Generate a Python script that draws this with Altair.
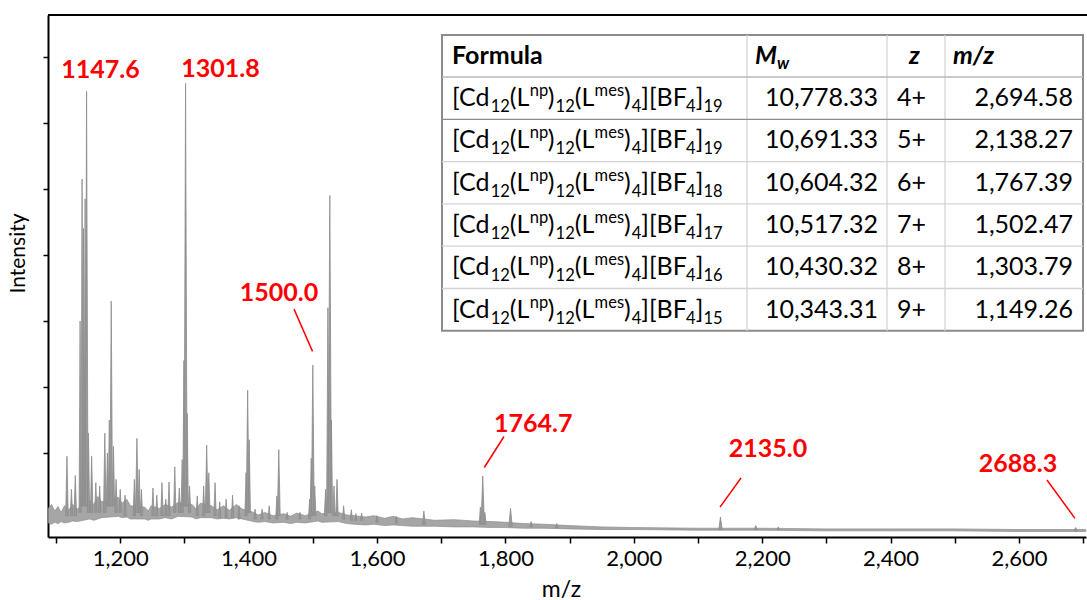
import altair as alt
import pandas as pd

# ---------------------------------------------------------------------------
# Spectrum: noisy baseline envelope (m/z, lower edge, upper edge), arb. units
# ---------------------------------------------------------------------------
base_mz = [1088, 1093, 1098, 1103, 1108, 1113, 1120, 1126, 1133, 1152, 1159, 1165,
           1171, 1197, 1203, 1210, 1216, 1238, 1244, 1248, 1261, 1270, 1280, 1290,
           1312, 1318, 1325, 1342, 1351, 1361, 1370, 1381, 1390, 1408, 1415, 1425,
           1438, 1455, 1465, 1475, 1488, 1508, 1514, 1540, 1553, 1565, 1582, 1595,
           1612, 1625, 1640, 1655, 1690, 1720, 1750, 1780, 1800, 1830, 1860, 1900,
           1950, 2000, 2100, 2200, 2300, 2400, 2500, 2600, 2704]
base_lo = [-0.06, -0.08, -0.05, -0.07, -0.04, -0.06, -0.05, -0.03, -0.04, 0.00, -0.02, 0.00,
           0.02, 0.04, 0.02, 0.03, 0.00, 0.00, -0.02, 0.00, 0.00, 0.02, 0.00, 0.04,
           0.03, 0.00, 0.02, 0.02, 0.00, 0.01, 0.00, 0.02, 0.00, -0.04, -0.05, -0.04,
           -0.06, -0.05, -0.07, -0.05, -0.06, -0.03, -0.05, -0.04, -0.07, -0.08, -0.09, -0.08,
           -0.10, -0.09, -0.10, -0.11, -0.11, -0.12, -0.12, -0.13, -0.13, -0.14, -0.14, -0.15,
           -0.16, -0.16, -0.17, -0.17, -0.18, -0.18, -0.18, -0.19, -0.19]
base_hi = [0.16, 0.22, 0.12, 0.19, 0.10, 0.20, 0.14, 0.22, 0.15, 0.28, 0.22, 0.34,
           0.26, 0.33, 0.24, 0.30, 0.20, 0.18, 0.12, 0.20, 0.16, 0.22, 0.18, 0.25,
           0.22, 0.15, 0.24, 0.20, 0.14, 0.20, 0.13, 0.22, 0.15, 0.10, 0.06, 0.10,
           0.05, 0.08, 0.04, 0.09, 0.05, 0.12, 0.08, 0.10, 0.06, 0.05, 0.03, 0.05,
           0.01, 0.04, 0.00, 0.02, -0.02, -0.01, -0.03, -0.04, -0.05, -0.07, -0.08, -0.10,
           -0.12, -0.13, -0.14, -0.14, -0.15, -0.15, -0.15, -0.16, -0.16]

# ---------------------------------------------------------------------------
# Spectrum: individual peaks (centre m/z, foot level, apex level, half-width)
# ---------------------------------------------------------------------------
peak_mz = [1117.0, 1124.0, 1130.0, 1137.5, 1140.6, 1142.8, 1145.3, 1147.6, 1150.5, 1155.5,
           1162.0, 1168.0, 1176.0, 1180.0, 1183.0, 1186.0, 1189.5, 1193.5, 1200.0, 1207.5,
           1222.0, 1226.0, 1229.5, 1233.0, 1251.0, 1257.0, 1265.0, 1271.0, 1276.0, 1285.0,
           1292.0, 1296.5, 1299.2, 1301.8, 1304.3, 1308.0, 1320.0, 1330.0, 1334.7, 1338.0,
           1347.7, 1355.0, 1365.0, 1375.0, 1385.0, 1396.0, 1398.5, 1401.0, 1410.0, 1421.0,
           1432.0, 1444.0, 1447.0, 1460.0, 1480.0, 1495.0, 1497.5, 1500.0, 1503.0, 1520.0,
           1523.5, 1526.5, 1529.0, 1533.0, 1537.7, 1548.0, 1560.0, 1567.0, 1576.0, 1600.0,
           1630.0, 1673.0, 1761.0, 1764.7, 1768.0, 1808.0, 1840.0, 1880.0, 2135.0, 2190.0,
           2225.0, 2688.3]
peak_foot = [0.05, 0.05, 0.05, 0.10, 0.20, 0.20, 0.20, 0.20, 0.10, 0.10,
             0.10, 0.10, 0.10, 0.20, 0.20, 0.20, 0.20, 0.10, 0.10, 0.05,
             0.05, 0.10, 0.10, 0.05, 0.05, 0.05, 0.05, 0.05, 0.05, 0.10,
             0.10, 0.10, 0.20, 0.20, 0.20, 0.10, 0.05, 0.05, 0.10, 0.10,
             0.05, 0.02, 0.02, 0.02, 0.00, 0.05, 0.10, 0.10, 0.00, 0.00,
             0.00, 0.00, 0.05, 0.00, 0.00, 0.00, 0.05, 0.10, 0.05, 0.05,
             0.10, 0.10, 0.10, 0.05, 0.05, 0.00, -0.02, -0.02, -0.02, -0.05,
             -0.06, -0.08, -0.08, -0.08, -0.08, -0.11, -0.12, -0.13, -0.16, -0.16,
             -0.16, -0.18]
peak_top = [0.95, 0.45, 0.66, 3.00, 5.15, 4.40, 4.85, 6.48, 1.30, 0.95,
            0.55, 0.50, 1.30, 1.00, 1.50, 3.30, 1.10, 0.60, 0.45, 0.36,
            0.60, 1.22, 0.75, 0.45, 0.47, 0.36, 0.55, 0.30, 0.56, 0.79,
            0.47, 0.90, 2.40, 6.60, 1.60, 0.50, 0.35, 0.50, 1.12, 0.70,
            0.55, 0.26, 0.30, 0.36, 0.20, 0.70, 1.95, 1.20, 0.15, 0.15,
            0.20, 0.35, 1.05, 0.10, 0.10, 0.30, 0.92, 2.33, 0.50, 0.45,
            3.20, 4.90, 1.50, 0.50, 0.60, 0.20, 0.14, 0.08, 0.09, 0.05,
            0.04, 0.12, 0.18, 0.65, 0.10, 0.16, -0.04, -0.07, 0.03, -0.10,
            -0.12, -0.13]
peak_hw = [2.0, 1.8, 2.0, 1.6, 1.6, 1.6, 1.6, 2.2, 1.8, 2.0,
           1.8, 1.8, 2.0, 1.8, 1.8, 2.0, 1.8, 1.8, 1.8, 1.8,
           1.8, 2.2, 1.8, 1.8, 1.8, 1.8, 1.8, 1.8, 1.8, 1.8,
           1.8, 1.8, 1.8, 2.4, 1.8, 1.8, 1.8, 1.8, 2.2, 1.8,
           1.8, 1.8, 1.8, 1.8, 1.8, 1.8, 2.2, 1.8, 1.8, 1.8,
           1.8, 1.8, 2.2, 1.8, 1.8, 1.8, 1.8, 2.2, 1.8, 2.2,
           2.0, 2.6, 1.8, 1.8, 1.8, 1.8, 1.8, 1.8, 1.8, 1.8,
           1.8, 2.2, 1.8, 2.6, 1.8, 2.6, 1.8, 2.2, 2.6, 2.6,
           1.8, 2.6]

# Peaks that carry an m/z annotation
labelled_mz = [1147.6, 1301.8, 1500.0, 1764.7, 2135.0, 2688.3]

# Assignment table
bf4_count = [19, 19, 18, 17, 16, 15]
mw_values = [10778.33, 10691.33, 10604.32, 10517.32, 10430.32, 10343.31]
charges = [4, 5, 6, 7, 8, 9]
mz_values = [2694.58, 2138.27, 1767.39, 1502.47, 1303.79, 1149.26]

# Axis ticks
x_ticks = list(range(1100, 2701, 100))
y_ticks = [1, 2, 3, 4, 5, 6, 7]

# ---------------------------------------------------------------------------
# Layout
# ---------------------------------------------------------------------------
FONT = "Lato"
W, H = 1038, 522
xs = alt.Scale(domain=[1087.5, 2704.4], nice=False, zero=False)
ys = alt.Scale(domain=[-0.273, 7.636], nice=False, zero=False)

# annotation text anchors (m/z, intensity of text baseline) and leader lines
label_at_mz = [1169.3, 1356.2, 1447.4, 1843.5, 2209.0, 2598.4]
label_at_int = [6.68, 6.70, 3.30, 1.32, 0.94, 0.71]
lead_from = [(1470.7, 3.18), (1797.8, 1.25), (2167.0, 0.62), (2643.6, 0.59)]
lead_to = [(1499.5, 2.54), (1767.1, 0.78), (2134.3, 0.18), (2687.2, 0.01)]

# table geometry (pixels inside the plot area's coordinate frame)
T_LEFT, T_RIGHT = 442 - 48, 1083 - 48
T_TOP, T_HEAD = 35 - 15, 77 - 15
ROW_H = 42.3
COL_EDGES = [747 - 48, 887 - 48, 945 - 48]
FS_MAIN, FS_SMALL = 25, 16.5

# ---------------------------------------------------------------------------
# Spectrum layers
# ---------------------------------------------------------------------------
band_df = pd.DataFrame({"mz": base_mz, "lo": base_lo, "hi": base_hi})

tri_rows = []
for i, (m, f, t, hw) in enumerate(zip(peak_mz, peak_foot, peak_top, peak_hw)):
    tri_rows += [
        {"pid": i, "mz": m - hw, "v": f, "f": f},
        {"pid": i, "mz": m, "v": t, "f": f},
        {"pid": i, "mz": m + hw, "v": f, "f": f},
    ]
peaks_df = pd.DataFrame(tri_rows)

x_axis = alt.Axis(
    values=x_ticks,
    labelExpr="datum.value % 200 === 0 ? format(datum.value, ',') : ''",
    tickSize=6, tickWidth=1.5, tickColor="black",
    domainColor="black", domainWidth=2, grid=False,
    labelFont=FONT, labelFontSize=22, labelColor="black",
    labelBaseline="alphabetic", labelPadding=22, labelFlush=False, labelOverlap=False,
    title="m/z", titleFont=FONT, titleFontSize=23, titleFontWeight="normal",
    titleColor="black", titleBaseline="alphabetic", titleY=59, titleX=513,
)
y_axis = alt.Axis(
    values=y_ticks, labels=False,
    tickSize=5, tickWidth=1.5, tickColor="black",
    domainColor="black", domainWidth=2, grid=False,
    title="Intensity", titleFont=FONT, titleFontSize=21, titleFontWeight="normal",
    titleColor="black", titleBaseline="alphabetic", titleAlign="center",
    titleX=-24, titleY=238,
)

band = alt.Chart(band_df).mark_area(
    color="#a6a6a6", stroke="#8e8e8e", strokeWidth=0.7, opacity=1
).encode(
    x=alt.X("mz:Q", scale=xs, axis=x_axis),
    y=alt.Y("hi:Q", scale=ys, axis=y_axis),
    y2="lo:Q",
)

peaks = alt.Chart(peaks_df).mark_area(
    color="#999999", stroke="#8c8c8c", strokeWidth=0.8, opacity=1
).encode(
    x=alt.X("mz:Q", scale=xs, axis=None),
    y=alt.Y("v:Q", scale=ys, axis=None),
    y2="f:Q",
    detail="pid:N",
)

lead_df = pd.DataFrame({
    "m1": [p[0] for p in lead_from], "i1": [p[1] for p in lead_from],
    "m2": [p[0] for p in lead_to], "i2": [p[1] for p in lead_to],
})
leaders = alt.Chart(lead_df).mark_rule(color="#ff0000", strokeWidth=1.5).encode(
    x=alt.X("m1:Q", scale=xs, axis=None), x2="m2:Q",
    y=alt.Y("i1:Q", scale=ys, axis=None), y2="i2:Q",
)

lab_df = pd.DataFrame({
    "mz": label_at_mz, "v": label_at_int,
    "t": [f"{m:.1f}" for m in labelled_mz],
})
labels = alt.Chart(lab_df).mark_text(
    font=FONT, fontWeight="bold", fontSize=25, color="#ff0000",
    align="center", baseline="alphabetic",
).encode(
    x=alt.X("mz:Q", scale=xs, axis=None),
    y=alt.Y("v:Q", scale=ys, axis=None),
    text="t:N",
)

# top frame line (the plot runs off the right edge, so no right border)
frame_df = pd.DataFrame({"x": [0], "x2": [W + 2], "y": [0], "y2": [0]})
frame_top = alt.Chart(frame_df).mark_rule(color="black", strokeWidth=2).encode(
    x=alt.X("x:Q", scale=None), x2="x2:Q",
    y=alt.Y("y:Q", scale=None), y2="y2:Q",
)

# ---------------------------------------------------------------------------
# Table layers
# ---------------------------------------------------------------------------
n_rows = len(mw_values)
T_BOTTOM = T_HEAD + ROW_H * n_rows

bg_df = pd.DataFrame({"x": [T_LEFT], "x2": [T_RIGHT], "y": [T_TOP], "y2": [T_BOTTOM]})
table_bg = alt.Chart(bg_df).mark_rect(
    fill="white", stroke="#8c8c8c", strokeWidth=2
).encode(
    x=alt.X("x:Q", scale=None), x2="x2:Q",
    y=alt.Y("y:Q", scale=None), y2="y2:Q",
)

line_rows = []
for cx in COL_EDGES:
    line_rows.append({"x": cx, "x2": cx, "y": T_TOP, "y2": T_BOTTOM, "c": "#d4d4d4"})
for k in range(n_rows):
    yy = T_HEAD + ROW_H * k
    colr = "#b8b8b8" if k == 0 else ("#8c8c8c" if k == 1 else "#d4d4d4")
    line_rows.append({"x": T_LEFT, "x2": T_RIGHT, "y": yy, "y2": yy, "c": colr})
lines_df = pd.DataFrame(line_rows)
table_lines = alt.Chart(lines_df).mark_rule(strokeWidth=1.3).encode(
    x=alt.X("x:Q", scale=None), x2="x2:Q",
    y=alt.Y("y:Q", scale=None), y2="y2:Q",
    color=alt.Color("c:N", scale=None),
)

# advance widths (em) used to set the formula's sub/superscript runs
LATO_EM = {"[": 0.31, "]": 0.31, "(": 0.31, ")": 0.31, "C": 0.685, "d": 0.552,
           "L": 0.485, "n": 0.552, "p": 0.549, "m": 0.83, "e": 0.525, "s": 0.42,
           "B": 0.634, "F": 0.54}


def run_width(s, size):
    return sum(LATO_EM.get(c, 0.58) for c in s) * size


def formula_runs(n_bf4):
    return [("[Cd", "n"), ("12", "sub"), ("(L", "n"), ("np", "sup"), (")", "n"),
            ("12", "sub"), ("(L", "n"), ("mes", "sup"), (")", "n"), ("4", "sub"),
            ("][BF", "n"), ("4", "sub"), ("]", "n"), (str(n_bf4), "sub")]


def row_baseline(r):
    return T_HEAD + ROW_H * (r + 0.5) + 8


seg_rows = []
for r, n in enumerate(bf4_count):
    xpos = 452 - 48
    b = row_baseline(r)
    for txt, kind in formula_runs(n):
        size = FS_MAIN if kind == "n" else FS_SMALL
        shift = {"n": 0, "sub": 6, "sup": -10}[kind]
        seg_rows.append({"t": txt, "x": xpos, "y": b + shift, "s": size})
        xpos += run_width(txt, size)
seg_df = pd.DataFrame(seg_rows)
formula_text = alt.Chart(seg_df).mark_text(
    font=FONT, color="black", align="left", baseline="alphabetic"
).encode(
    x=alt.X("x:Q", scale=None), y=alt.Y("y:Q", scale=None),
    text="t:N", size=alt.Size("s:Q", scale=None, legend=None),
)

head_base = T_TOP + (T_HEAD - T_TOP) / 2 + 8
hb_df = pd.DataFrame({"t": ["Formula"], "x": [452 - 48], "y": [head_base]})
header_bold = alt.Chart(hb_df).mark_text(
    font=FONT, fontWeight="bold", fontSize=FS_MAIN, color="black",
    align="left", baseline="alphabetic",
).encode(x=alt.X("x:Q", scale=None), y=alt.Y("y:Q", scale=None), text="t:N")

hbi_df = pd.DataFrame({
    "t": ["M", "w", "z", "m/z"],
    "x": [755 - 48, 777 - 48, 909 - 48, 953 - 48],
    "y": [head_base, head_base + 5, head_base, head_base],
    "s": [FS_MAIN, FS_SMALL, FS_MAIN, FS_MAIN],
})
header_bi = alt.Chart(hbi_df).mark_text(
    font=FONT, fontWeight="bold", fontStyle="italic", color="black",
    align="left", baseline="alphabetic",
).encode(
    x=alt.X("x:Q", scale=None), y=alt.Y("y:Q", scale=None),
    text="t:N", size=alt.Size("s:Q", scale=None, legend=None),
)

vr_rows = []
vl_rows = []
for r in range(n_rows):
    b = row_baseline(r)
    vr_rows.append({"t": f"{mw_values[r]:,.2f}", "x": 878 - 48, "y": b})
    vr_rows.append({"t": f"{mz_values[r]:,.2f}", "x": 1073 - 48, "y": b})
    vl_rows.append({"t": f"{charges[r]}+", "x": 897 - 48, "y": b})
values_right = alt.Chart(pd.DataFrame(vr_rows)).mark_text(
    font=FONT, fontSize=FS_MAIN, color="black", align="right", baseline="alphabetic"
).encode(x=alt.X("x:Q", scale=None), y=alt.Y("y:Q", scale=None), text="t:N")
values_left = alt.Chart(pd.DataFrame(vl_rows)).mark_text(
    font=FONT, fontSize=FS_MAIN, color="black", align="left", baseline="alphabetic"
).encode(x=alt.X("x:Q", scale=None), y=alt.Y("y:Q", scale=None), text="t:N")

# ---------------------------------------------------------------------------
chart = alt.layer(
    band, peaks, leaders, labels, frame_top,
    table_bg, table_lines, formula_text, header_bold, header_bi,
    values_right, values_left,
).resolve_scale(
    x="independent", y="independent"
).properties(
    width=W, height=H,
    padding={"left": 48, "top": 15, "right": 1, "bottom": 63},
    autosize=alt.AutoSizeParams(type="none"),
    background="white",
).configure_view(
    strokeWidth=0
)

chart.save("out.html", embed_options={"renderer": "svg", "actions": False})
